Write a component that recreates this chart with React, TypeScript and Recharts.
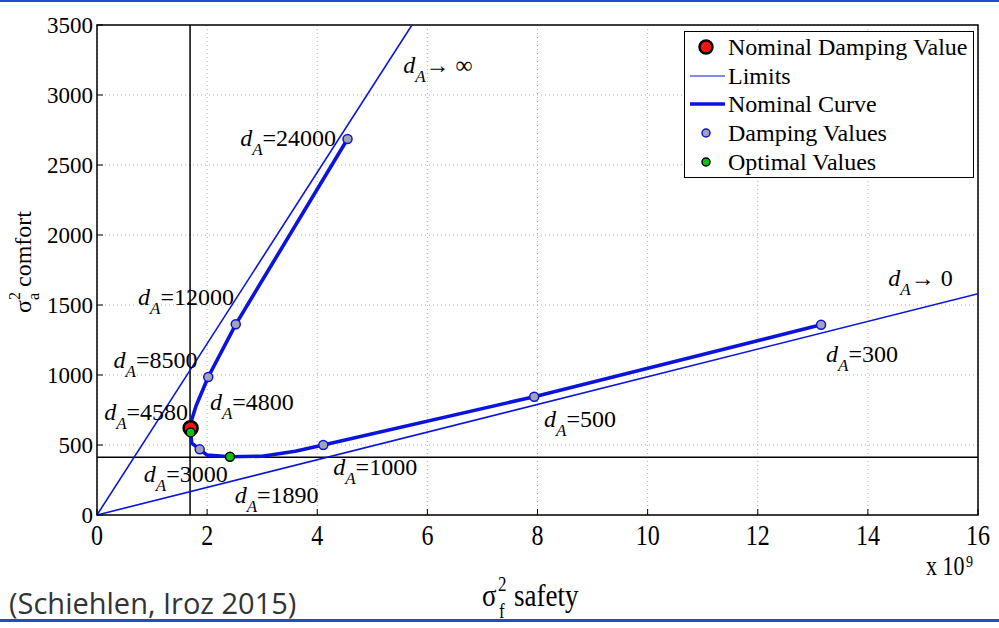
import React from 'react'
import {
  ComposedChart,
  Line,
  Scatter,
  XAxis,
  YAxis,
  CartesianGrid,
  ReferenceLine,
  ReferenceArea,
} from 'recharts'

// safety variance in units of 1e9, comfort variance
const xTicks = [0, 2, 4, 6, 8, 10, 12, 14, 16]
const yTicks = [0, 500, 1000, 1500, 2000, 2500, 3000, 3500]

// limit lines for d_A -> infinity and d_A -> 0
const upperLimit = [
  { x: 0, y: 0 },
  { x: 5.72, y: 3500 },
]
const lowerLimit = [
  { x: 0, y: 0 },
  { x: 16, y: 1580 },
]

// nominal curve, from large damping down to small damping
const nominalCurve = [
  { x: 4.55, y: 2686 },
  { x: 2.52, y: 1362 },
  { x: 2.02, y: 986 },
  { x: 1.8, y: 780 },
  { x: 1.72, y: 680 },
  { x: 1.7, y: 620 },
  { x: 1.7, y: 590 },
  { x: 1.72, y: 514 },
  { x: 1.865, y: 469 },
  { x: 2.0, y: 428 },
  { x: 2.415, y: 416 },
  { x: 3.0, y: 420 },
  { x: 3.6, y: 455 },
  { x: 4.11, y: 500 },
  { x: 7.94, y: 845 },
  { x: 13.15, y: 1359 },
]

const dampingValues = [
  { x: 4.55, y: 2686 },
  { x: 2.52, y: 1362 },
  { x: 2.02, y: 986 },
  { x: 1.865, y: 469 },
  { x: 4.11, y: 500 },
  { x: 7.94, y: 845 },
  { x: 13.15, y: 1359 },
]
const nominalValue = [{ x: 1.7, y: 620 }]
const optimalValues = [
  { x: 1.7, y: 590 },
  { x: 2.415, y: 416 },
]
const optimalSafety = 1.69
const optimalComfort = 412

// damping annotations, anchored at the left end of the text baseline
const annotations = [
  { x: 5.56, y: 3157, label: '→ ∞', arrow: true },
  { x: 2.6, y: 2636, label: '24000' },
  { x: 0.745, y: 1500, label: '12000' },
  { x: 0.3, y: 1050, label: '8500' },
  { x: 0.13, y: 678, label: '4580' },
  { x: 2.05, y: 750, label: '4800' },
  { x: 0.85, y: 236, label: '3000' },
  { x: 2.5, y: 86, label: '1890' },
  { x: 4.29, y: 286, label: '1000' },
  { x: 8.12, y: 629, label: '500' },
  { x: 13.24, y: 1093, label: '300' },
  { x: 14.37, y: 1636, label: '→ 0', arrow: true },
]

const legendItems = [
  { name: 'Nominal Damping Value', kind: 'nominal' },
  { name: 'Limits', kind: 'limit' },
  { name: 'Nominal Curve', kind: 'curve' },
  { name: 'Damping Values', kind: 'damping' },
  { name: 'Optimal Values', kind: 'optimal' },
]

const BLUE = '#0a14dc'
const SERIF = '"Liberation Serif", "Times New Roman", serif'

const dampingDot = (p: any) => (
  <circle cx={p.cx} cy={p.cy} r={4.5} fill="#a3a3b3" stroke={BLUE} strokeWidth={1.5} />
)
const nominalDot = (p: any) => (
  <circle cx={p.cx} cy={p.cy} r={7} fill="#ff1010" stroke="#000" strokeWidth={2.5} />
)
const optimalDot = (p: any) => (
  <circle cx={p.cx} cy={p.cy} r={4.5} fill="#10c010" stroke="#000" strokeWidth={1.5} />
)

const annotationText = (p: any) => {
  const a = p.payload
  return (
    <text x={p.cx} y={p.cy} fontFamily={SERIF} fontSize={24} fill="#000">
      <tspan fontStyle="italic">d</tspan>
      <tspan fontStyle="italic" fontSize={17} dy={9}>
        A
      </tspan>
      <tspan dy={-9}>{a.arrow ? a.label : '=' + a.label}</tspan>
    </text>
  )
}

// x tick labels are drawn slightly tall, like the rest of the bottom band
const XTick = (p: any) => (
  <g transform={`translate(${p.x},${p.y + 30}) scale(1,1.22)`}>
    <text x={0} y={0} textAnchor="middle" style={{ fontFamily: SERIF }} fontSize={24} fill="#000">
      {p.payload.value}
    </text>
  </g>
)
const YTick = (p: any) => (
  <text x={p.x} y={p.y} dy={8} textAnchor="end" style={{ fontFamily: SERIF }} fontSize={23} fill="#000">
    {p.payload.value}
  </text>
)

function LegendBox() {
  const rows = [16, 45, 73, 102, 131]
  return (
    <svg
      width={290}
      height={147}
      style={{ position: 'absolute', left: 684, top: 31, background: '#fff' }}
    >
      <rect x={0.5} y={0.5} width={289} height={146} fill="#fff" stroke="#000" />
      {legendItems.map((item, i) => {
        const cy = rows[i]
        let marker = null
        if (item.kind === 'nominal')
          marker = <circle cx={22} cy={cy} r={6.5} fill="#ff1010" stroke="#000" strokeWidth={2.5} />
        if (item.kind === 'limit')
          marker = <line x1={6} x2={41} y1={cy} y2={cy} stroke={BLUE} strokeWidth={1.2} />
        if (item.kind === 'curve')
          marker = <line x1={6} x2={41} y1={cy} y2={cy} stroke={BLUE} strokeWidth={3.5} />
        if (item.kind === 'damping')
          marker = <circle cx={22} cy={cy} r={4} fill="#a3a3b3" stroke={BLUE} strokeWidth={1.5} />
        if (item.kind === 'optimal')
          marker = <circle cx={22} cy={cy} r={4} fill="#10c010" stroke="#000" strokeWidth={1.5} />
        return (
          <g key={item.name}>
            {marker}
            <text x={44} y={cy + 8} fontFamily={SERIF} fontSize={24} fill="#000">
              {item.name}
            </text>
          </g>
        )
      })}
    </svg>
  )
}

function Titles() {
  return (
    <svg width={999} height={628} style={{ position: 'absolute', left: 0, top: 0, pointerEvents: 'none' }}>
      <rect x={0} y={0} width={999} height={2} fill="#1f4fc8" />
      <rect x={0} y={619} width={999} height={3} fill="#1f4fc8" />
      <text transform="translate(31,262) rotate(-90)" textAnchor="middle" fontFamily={SERIF} fontSize={24} fill="#000">
        σ
        <tspan fontSize={16} dy={-11}>
          2
        </tspan>
        <tspan fontSize={16} dx={-8} dy={19}>
          a
        </tspan>
        <tspan dy={-8}> comfort</tspan>
      </text>
      {/* σ_f^2 safety, with the exponent and index stacked */}
      <g transform="translate(482,606) scale(1,1.18)" fontFamily={SERIF} fill="#000">
        <text x={0} y={0} fontSize={27}>
          σ
        </text>
        <text x={16} y={-13} fontSize={17}>
          2
        </text>
        <text x={17} y={10} fontSize={17}>
          f
        </text>
        <text x={32} y={0} fontSize={27}>
          safety
        </text>
      </g>
      <g transform="translate(926,575) scale(1,1.2)" fontFamily={SERIF} fill="#000">
        <text x={0} y={0} fontSize={22}>
          x 10
        </text>
        <text x={40} y={-7} fontSize={14}>
          9
        </text>
      </g>
      <text x={9} y={614} fontFamily='"Open Sans", sans-serif' fontSize={29} fill="#333">
        (Schiehlen, Iroz 2015)
      </text>
    </svg>
  )
}

export default function App() {
  return (
    <div
      style={{
        position: 'absolute',
        left: 0,
        top: 0,
        width: 999,
        height: 628,
        background: '#fff',
        overflow: 'hidden',
      }}
    >
      <ComposedChart width={999} height={628} margin={{ top: 25, right: 21, bottom: 83, left: 37 }}>
        <CartesianGrid stroke="#b0b0b0" strokeDasharray="1 3" horizontalValues={yTicks} verticalValues={xTicks} />
        <XAxis
          type="number"
          dataKey="x"
          domain={[0, 16]}
          ticks={xTicks}
          allowDataOverflow
          height={30}
          axisLine={false}
          tickSize={-6}
          tickMargin={6}
          tickLine={{ stroke: '#000' }}
          tick={XTick}
        />
        <XAxis
          xAxisId="top"
          orientation="top"
          type="number"
          domain={[0, 16]}
          ticks={xTicks}
          allowDataOverflow
          height={0}
          axisLine={false}
          tickSize={-6}
          tickLine={{ stroke: '#000' }}
          tick={false}
        />
        <YAxis
          type="number"
          domain={[0, 3500]}
          ticks={yTicks}
          allowDataOverflow
          width={60}
          axisLine={false}
          tickSize={-6}
          tickMargin={10}
          tickLine={{ stroke: '#000' }}
          tick={YTick}
        />
        <YAxis
          yAxisId="right"
          orientation="right"
          type="number"
          domain={[0, 3500]}
          ticks={yTicks}
          allowDataOverflow
          width={0}
          axisLine={false}
          tickSize={-6}
          tickLine={{ stroke: '#000' }}
          tick={false}
        />
        <ReferenceArea
          x1={0}
          x2={16}
          y1={0}
          y2={3500}
          fill="none"
          fillOpacity={0}
          stroke="#000"
          strokeWidth={1.5}
          ifOverflow="visible"
        />
        <ReferenceLine x={optimalSafety} stroke="#000" strokeWidth={1.5} />
        <ReferenceLine y={optimalComfort} stroke="#000" strokeWidth={1.5} />
        <Line data={upperLimit} dataKey="y" stroke={BLUE} strokeWidth={1.6} dot={false} isAnimationActive={false} />
        <Line data={lowerLimit} dataKey="y" stroke={BLUE} strokeWidth={1.6} dot={false} isAnimationActive={false} />
        <Line
          data={nominalCurve}
          dataKey="y"
          type="linear"
          stroke={BLUE}
          strokeWidth={3.6}
          strokeLinejoin="round"
          dot={false}
          isAnimationActive={false}
        />
        <Scatter data={dampingValues} dataKey="y" shape={dampingDot} isAnimationActive={false} />
        <Scatter data={nominalValue} dataKey="y" shape={nominalDot} isAnimationActive={false} />
        <Scatter data={optimalValues} dataKey="y" shape={optimalDot} isAnimationActive={false} />
        <Scatter data={annotations} dataKey="y" shape={annotationText} isAnimationActive={false} />
      </ComposedChart>
      <Titles />
      <LegendBox />
    </div>
  )
}
